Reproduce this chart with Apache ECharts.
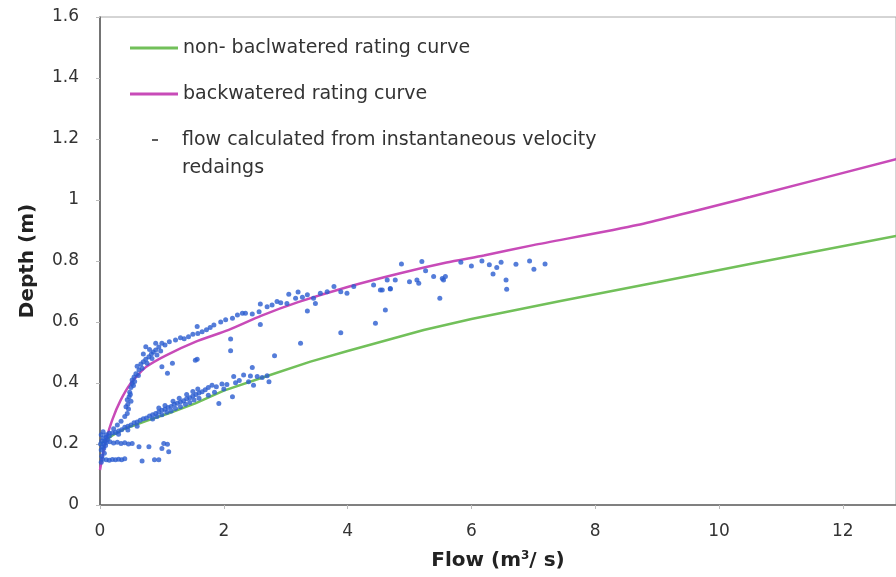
<!DOCTYPE html>
<html>
<head>
<meta charset="utf-8">
<script src="https://cdn.jsdelivr.net/npm/echarts@6/dist/echarts.min.js"></script>
<style>
  html, body { margin: 0; padding: 0; background: #fff; }
  #chart { width: 896px; height: 577px; }
</style>
</head>
<body>
<div id="chart"></div>
<script>
// rating curves, [flow m3/s, depth m]
var nonBackwateredCurve = [
    [0, 0.2], [0.2, 0.228], [0.4, 0.25], [0.74, 0.275], [1.1, 0.3], [1.54, 0.333],
    [2.0, 0.375], [2.7, 0.423], [3.4, 0.47], [4, 0.505], [5.23, 0.574], [6, 0.61],
    [7.44, 0.669], [9, 0.73], [10.5, 0.79], [12.86, 0.882], [13.2, 0.895]
];
var backwateredCurve = [
    [0, 0.115], [0.05, 0.17], [0.1, 0.215], [0.2, 0.28], [0.33, 0.342], [0.5, 0.4],
    [0.74, 0.452], [1.06, 0.49], [1.54, 0.535], [2.08, 0.574], [2.6, 0.62], [3.2, 0.665],
    [4, 0.715], [4.85, 0.76], [5.6, 0.795], [6.2, 0.818], [7.0, 0.852], [8.68, 0.918],
    [10.5, 1.01], [12.86, 1.134], [13.2, 1.152]
];

// flow calculated from instantaneous velocity readings
var velocityReadings = [
    // near zero flow
    [0.02, 0.14], [0.03, 0.16], [0.02, 0.18], [0.04, 0.19], [0.03, 0.21], [0.05, 0.22],
    [0.02, 0.23], [0.06, 0.20], [0.08, 0.21], [0.04, 0.15], [0.07, 0.17], [0.05, 0.24], [0.01, 0.20],
    [0.06, 0.185], [0.09, 0.195], [0.1, 0.23], [0.12, 0.215],
    // low rows
    [0.1, 0.148], [0.15, 0.147], [0.2, 0.149], [0.25, 0.148], [0.3, 0.150], [0.35, 0.148],
    [0.4, 0.152], [0.68, 0.144], [0.88, 0.148], [0.95, 0.148],
    [0.1, 0.205], [0.16, 0.207], [0.22, 0.203], [0.28, 0.206], [0.34, 0.202], [0.4, 0.204],
    [0.46, 0.200], [0.52, 0.202], [0.63, 0.191], [0.79, 0.191], [1.03, 0.202], [1.09, 0.199],
    [1.11, 0.175], [1.0, 0.185],
    // lower branch
    [0.10, 0.222], [0.15, 0.226], [0.20, 0.236], [0.25, 0.238], [0.30, 0.243], [0.35, 0.247],
    [0.40, 0.255], [0.45, 0.258], [0.50, 0.262], [0.55, 0.270], [0.60, 0.272], [0.65, 0.278],
    [0.70, 0.283], [0.75, 0.285], [0.80, 0.292], [0.85, 0.296], [0.90, 0.300], [0.95, 0.305],
    [1.00, 0.311], [1.05, 0.314], [1.10, 0.320], [1.15, 0.323], [1.20, 0.330], [1.25, 0.334],
    [1.30, 0.338], [1.35, 0.342], [1.40, 0.348], [1.45, 0.352], [1.50, 0.357], [1.55, 0.362],
    [1.60, 0.367], [1.65, 0.371],
    [0.85, 0.282], [0.92, 0.290], [1.00, 0.296], [1.08, 0.304], [1.15, 0.308], [1.22, 0.316],
    [1.30, 0.322], [1.38, 0.330], [1.45, 0.336], [1.52, 0.344], [1.60, 0.350],
    [0.95, 0.318], [1.05, 0.326], [1.18, 0.340], [1.28, 0.350], [1.40, 0.362], [1.50, 0.372], [1.58, 0.380],
    [0.3, 0.232], [0.45, 0.246], [0.6, 0.258],
    [1.70, 0.378], [1.75, 0.385], [1.81, 0.393], [1.88, 0.388], [1.92, 0.333], [1.97, 0.397],
    [2.05, 0.395], [2.14, 0.355], [2.19, 0.401], [2.16, 0.421], [2.25, 0.408], [2.32, 0.426],
    [2.40, 0.404], [2.43, 0.423], [2.48, 0.393], [2.54, 0.421], [2.62, 0.418], [2.70, 0.424],
    [2.73, 0.404], [2.46, 0.451], [2.82, 0.489], [1.75, 0.36], [1.85, 0.37], [2.0, 0.38],
    // upper branch
    [0.15, 0.235], [0.22, 0.250], [0.28, 0.262], [0.34, 0.275], [0.40, 0.290], [0.44, 0.300],
    [0.46, 0.315], [0.45, 0.330], [0.44, 0.345], [0.47, 0.355], [0.48, 0.370], [0.50, 0.385],
    [0.52, 0.398], [0.52, 0.410], [0.55, 0.420], [0.58, 0.430], [0.63, 0.443], [0.60, 0.455],
    [0.66, 0.462], [0.70, 0.470], [0.74, 0.478], [0.79, 0.486], [0.83, 0.495], [0.86, 0.502],
    [0.90, 0.508], [0.95, 0.518], [1.00, 0.530], [0.74, 0.519], [0.90, 0.530], [0.80, 0.510],
    [0.42, 0.322], [0.50, 0.340], [0.49, 0.362], [0.54, 0.392], [0.56, 0.405], [0.62, 0.425],
    [0.68, 0.448], [0.76, 0.465], [0.84, 0.480], [0.92, 0.492], [0.70, 0.495], [0.98, 0.505],
    [1.05, 0.525], [1.12, 0.535], [1.17, 0.465], [1.00, 0.453], [1.09, 0.432], [1.22, 0.541],
    [1.30, 0.548], [1.36, 0.545], [1.43, 0.552], [1.50, 0.560], [1.57, 0.585], [1.58, 0.562],
    [1.65, 0.568], [1.54, 0.475], [1.72, 0.575], [1.78, 0.582], [1.84, 0.590], [1.95, 0.600],
    [2.03, 0.607], [2.14, 0.612], [2.22, 0.623], [2.30, 0.629], [2.35, 0.629], [2.46, 0.626],
    [2.57, 0.634], [2.59, 0.659], [2.59, 0.592], [2.70, 0.650], [2.78, 0.656], [2.86, 0.667],
    [2.92, 0.663], [3.02, 0.661], [3.05, 0.691], [3.16, 0.678], [3.20, 0.698], [3.27, 0.681],
    [3.35, 0.689], [3.35, 0.636], [3.45, 0.678], [3.48, 0.661], [3.56, 0.694], [3.67, 0.699],
    [3.78, 0.716], [3.89, 0.699], [3.99, 0.694], [4.10, 0.716],
    // scattered
    [2.11, 0.544], [2.11, 0.506], [1.57, 0.478], [3.24, 0.530], [3.89, 0.565], [4.45, 0.596],
    [5.49, 0.678], [4.42, 0.721], [4.53, 0.705], [4.64, 0.738], [4.69, 0.710], [4.61, 0.639],
    [4.56, 0.705], [4.69, 0.708], [4.77, 0.738], [4.87, 0.790], [5.00, 0.732], [5.12, 0.738],
    [5.15, 0.727], [5.20, 0.798], [5.26, 0.768], [5.39, 0.749], [5.53, 0.743], [5.58, 0.749],
    [5.55, 0.738], [5.83, 0.796], [6.00, 0.784], [6.17, 0.800], [6.29, 0.788], [6.41, 0.779],
    [6.48, 0.796], [6.35, 0.757], [6.56, 0.738], [6.57, 0.707], [6.72, 0.789], [6.94, 0.800],
    [7.01, 0.773], [7.19, 0.790]
];

var curveNames = ['non- baclwatered rating curve', 'backwatered rating curve'];
var readingsName = 'flow calculated from instantaneous velocity\nredaings';

var labelFont = '"DejaVu Sans", sans-serif';

var option = {
    animation: false,
    grid: {
        left: 100,
        right: 0,
        top: 17,
        bottom: 72,
        show: true,
        borderColor: '#aaa',
        borderWidth: 1
    },
    legend: [
        {
            data: curveNames,
            orient: 'vertical',
            left: 130,
            top: 37,
            padding: 0,
            itemGap: 24,
            itemWidth: 48,
            itemHeight: 3,
            icon: 'rect',
            textStyle: { fontFamily: labelFont, fontSize: 19, color: '#333', lineHeight: 22 }
        },
        {
            data: [{ name: readingsName, itemStyle: { color: '#333' } }],
            orient: 'vertical',
            left: 152,
            top: 98,
            padding: 0,
            itemWidth: 6,
            itemHeight: 2,
            icon: 'rect',
            // blank first line keeps the dash level with the first text line
            formatter: function (name) { return '\n' + name; },
            textStyle: { fontFamily: labelFont, fontSize: 19, color: '#333', lineHeight: 28, padding: [0, 0, 0, 19] }
        }
    ],
    xAxis: {
        type: 'value',
        min: 0,
        max: 12.86,
        interval: 2,
        name: 'Flow (m{sup|3}/ s)',
        nameLocation: 'middle',
        nameGap: 45,
        nameTextStyle: {
            fontFamily: labelFont, fontSize: 20, fontWeight: 'bold', color: '#222',
            rich: { sup: { fontFamily: labelFont, fontSize: 12, fontWeight: 'bold', color: '#222', padding: [0, 0, 10, 0] } }
        },
        axisLine: { show: true, lineStyle: { color: '#666', width: 1.5 } },
        axisTick: { show: true, length: 4, lineStyle: { color: '#bbb' } },
        axisLabel: { fontFamily: labelFont, fontSize: 17, color: '#333', margin: 18, showMaxLabel: false },
        splitLine: { show: false }
    },
    yAxis: {
        type: 'value',
        min: 0,
        max: 1.6,
        interval: 0.2,
        name: 'Depth (m)',
        nameLocation: 'middle',
        nameGap: 62,
        nameTextStyle: { fontFamily: labelFont, fontSize: 20, fontWeight: 'bold', color: '#222' },
        axisLine: { show: true, lineStyle: { color: '#555', width: 1.5 } },
        axisTick: { show: true, length: 4, lineStyle: { color: '#bbb' } },
        axisLabel: { fontFamily: labelFont, fontSize: 17, color: '#333', margin: 21 },
        splitLine: { show: false }
    },
    series: [
        {
            name: curveNames[0],
            type: 'line',
            data: nonBackwateredCurve,
            symbol: 'none',
            clip: true,
            lineStyle: { color: '#72c05a', width: 2.5 },
            itemStyle: { color: '#72c05a' },
            z: 2
        },
        {
            name: curveNames[1],
            type: 'line',
            data: backwateredCurve,
            symbol: 'none',
            smooth: 0.2,
            clip: true,
            lineStyle: { color: '#c84bb8', width: 2.5 },
            itemStyle: { color: '#c84bb8' },
            z: 2
        },
        {
            name: readingsName,
            type: 'scatter',
            data: velocityReadings,
            symbol: 'circle',
            symbolSize: 5,
            itemStyle: { color: '#2a5cd0' },
            z: 3
        }
    ]
};

var myChart = echarts.init(document.getElementById('chart'));
myChart.setOption(option);
</script>
</body>
</html>
